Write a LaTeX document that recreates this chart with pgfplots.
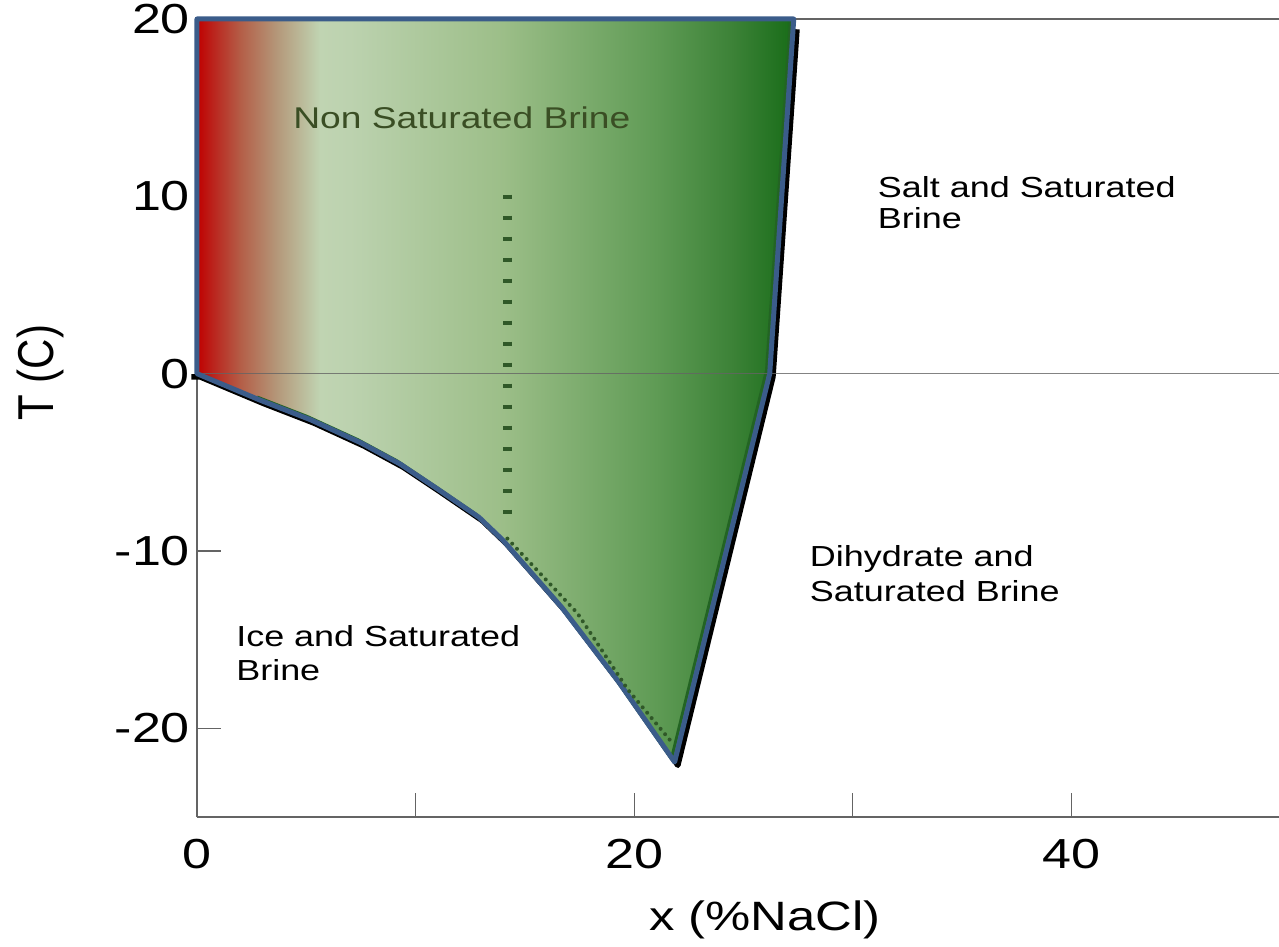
\documentclass[border=0pt]{standalone}
\usepackage{graphicx}
\usepackage{pgfplots}
\pgfplotsset{compat=1.18}
\usepackage{fontspec}
\setmainfont{Liberation Sans}
\newfontfamily\sfs[FakeStretch=1.24]{Liberation Sans}
\definecolor{g0}{RGB}{192,0,0}
\definecolor{g1}{RGB}{186,40,32}
\definecolor{g2}{RGB}{180,95,72}
\definecolor{g3}{RGB}{180,150,120}
\definecolor{g4}{RGB}{192,212,178}
\definecolor{g5}{RGB}{188,210,175}
\definecolor{g6}{RGB}{156,190,136}
\definecolor{g7}{RGB}{95,155,85}
\definecolor{g8}{RGB}{60,130,55}
\definecolor{g9}{RGB}{24,108,24}
\definecolor{outblue}{RGB}{59,92,138}
\definecolor{ingreen}{RGB}{35,100,35}
\definecolor{dotgreen}{RGB}{48,88,40}
\definecolor{labgreen}{RGB}{58,78,36}
\definecolor{axgray}{RGB}{100,100,100}
% positions: 25bp + 50bp * x / 27.3
\pgfdeclarehorizontalshading{brine}{100bp}{color(0bp)=(g0); color(25bp)=(g0); color(26.5bp)=(g1); color(28.7bp)=(g2); color(31.6bp)=(g3); color(35.3bp)=(g4); color(37.8bp)=(g5); color(50.64bp)=(g6); color(63.46bp)=(g7); color(69.87bp)=(g8); color(75bp)=(g9); color(100bp)=(g9)}
\begin{document}
\begin{tikzpicture}
\begin{axis}[
  at={(0,0)}, anchor=south west,
  scale only axis, width=541pt, height=399pt,
  xmin=0, xmax=49.5, ymin=-25, ymax=20,
  axis x line*=bottom, axis y line*=left,
  axis line style={axgray, line width=0.6pt},
  tick style={axgray, line width=0.6pt},
  tick align=inside, major tick length=12pt,
  xtick={0,10,20,30,40}, xticklabels={0,,20,,40},
  ytick={-20,-10,0,10,20},
  /pgf/number format/assume math mode=true,
  tick label style={font=\sfs\fontsize{21}{25}\selectfont},
  xticklabel style={yshift=-7.5pt},
  xlabel={x (\%NaCl)},
  xlabel style={font=\sfs\fontsize{20.5}{24}\selectfont, at={(axis description cs:0.525,0)}, anchor=base, yshift=-56.5pt},
  ylabel={\scalebox{1}[1.2]{T (C)}},
  ylabel style={font=\fontsize{21}{25}\selectfont, at={(axis description cs:-0.145,0.557)}, anchor=center},
  clip=false,
]
% black shadow of the liquidus
\addplot[black, line width=2.8pt, line join=round, xshift=1.6pt, yshift=-1.6pt, mark=none] coordinates {
  (-0.4,0) (0,0) (2.9,-1.5) (5.2,-2.6) (7.5,-3.9) (9.3,-5.1) (11,-6.5) (12.9,-8.1) (14,-9.4) (16.7,-13.2) (19.3,-17.4) (21.85,-21.9) (26.2,0) (27.3,19.6)};
% shaded region
\addplot[draw=none, shade, shading=brine, mark=none] coordinates {
  (0,20) (27.3,20) (26.2,0) (21.85,-21.9) (19.3,-17.4) (16.7,-13.2) (14,-9.4) (12.9,-8.1) (11,-6.5) (9.3,-5.1) (7.5,-3.9) (5.2,-2.6) (2.9,-1.5) (0,0)} -- cycle;
% inner dark green edge
\addplot[ingreen, line width=1.5pt, line join=round, xshift=-1.6pt, yshift=1.6pt, mark=none] coordinates {
  (2.9,-1.5) (5.2,-2.6) (7.5,-3.9) (9.3,-5.1) (11,-6.5) (12.9,-8.1) (14,-9.4) (16.7,-13.2) (19.3,-17.4) (21.85,-21.9) (26.2,0) (27.3,19.8)};
% horizontal lines
\addplot[axgray, line width=0.6pt, opacity=0.8, mark=none] coordinates {(0,0) (49.5,0)};
\addplot[axgray, line width=0.6pt, mark=none] coordinates {(27.3,20) (49.5,20)};
% blue outline
\addplot[outblue, line width=2.5pt, line join=round, mark=none] coordinates {
  (0,20) (27.3,20) (26.2,0) (21.85,-21.9) (19.3,-17.4) (16.7,-13.2) (14,-9.4) (12.9,-8.1) (11,-6.5) (9.3,-5.1) (7.5,-3.9) (5.2,-2.6) (2.9,-1.5) (0,0)} -- cycle;
% dotted path
\addplot[dotgreen, line width=4.5pt, line cap=butt, dash pattern=on 2pt off 8.5pt, mark=none] coordinates {(14.2,10.1) (14.2,-8.8)};
\addplot[dotgreen, line width=2pt, line cap=round, dash pattern=on 0pt off 3.5pt, mark=none] coordinates {(14.2,-9.3) (17.4,-13.5) (19.7,-17.8) (21.8,-20.9)};
% labels
\node[anchor=base west, font=\sfs\fontsize{15}{18}\selectfont, text=labgreen, inner sep=0pt] at (axis cs:4.39,13.85) {Non Saturated Brine};
\node[anchor=base west, font=\sfs\fontsize{14.5}{17}\selectfont, inner sep=0pt] at (axis cs:31.13,9.94) {Salt and Saturated};
\node[anchor=base west, font=\sfs\fontsize{14.5}{17}\selectfont, inner sep=0pt] at (axis cs:31.13,8.20) {Brine};
\node[anchor=base west, font=\sfs\fontsize{14.5}{17}\selectfont, inner sep=0pt] at (axis cs:28.02,-10.89) {Dihydrate and};
\node[anchor=base west, font=\sfs\fontsize{14.5}{17}\selectfont, inner sep=0pt] at (axis cs:28.02,-12.87) {Saturated Brine};
\node[anchor=base west, font=\sfs\fontsize{14.5}{17}\selectfont, inner sep=0pt] at (axis cs:1.78,-15.41) {Ice and Saturated};
\node[anchor=base west, font=\sfs\fontsize{14.5}{17}\selectfont, inner sep=0pt] at (axis cs:1.78,-17.28) {Brine};
\end{axis}
\pgfresetboundingbox
\path (-98.5pt,-65pt) rectangle (541pt,408.5pt);
\end{tikzpicture}
\end{document}
